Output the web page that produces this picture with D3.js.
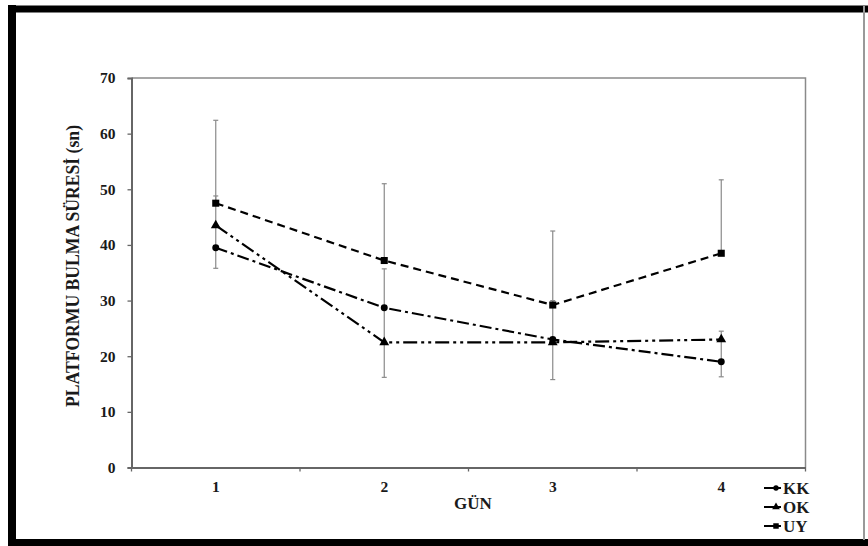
<!DOCTYPE html>
<html>
<head>
<meta charset="utf-8">
<script src="https://cdn.jsdelivr.net/npm/d3@7"></script>
<style>
html,body{margin:0;padding:0;background:#fff;}
svg{display:block;}
text{font-family:"Liberation Serif","Times New Roman",serif;font-weight:bold;fill:#1a1a1a;}
</style>
</head>
<body>
<svg id="chart" width="868" height="546"></svg>
<script>
// ---- data ----
const days = [1, 2, 3, 4];
const yTicks = [0, 10, 20, 30, 40, 50, 60, 70];
const seriesNames = ["KK", "OK", "UY"];
const KK = [39.5, 28.7, 23.0, 19.0];
const OK = [43.5, 22.5, 22.5, 23.0];
const UY = [47.5, 37.2, 29.2, 38.5];
const KK_errUp = [0, 7.0, 7.0, 0];
const KK_errDown = [3.7, 0, 7.2, 2.7];
const OK_errUp = [5.3, 6.2, 0, 1.5];
const OK_errDown = [4.0, 6.3, 0, 4.0];
const UY_errUp = [14.9, 13.8, 13.3, 13.2];
const UY_errDown = [0, 0, 0, 0];
const xTitle = "GÜN";
const yTitle = "PLATFORMU BULMA SÜRESİ (sn)";

// ---- layout ----
const svg = d3.select("#chart");
const L = 131.5, R = 805.5, T = 78, B = 467.5;
const x = d3.scaleBand().domain(days).range([L, R]);
const y = d3.scaleLinear().domain([0, 70]).range([B, T]);
const cx = d => x(d) + x.bandwidth() / 2;

// outer frame
svg.append("line").attr("x1", 12).attr("x2", 12).attr("y1", 5).attr("y2", 545)
  .attr("stroke", "#000").attr("stroke-width", 8);
svg.append("line").attr("x1", 8).attr("x2", 868).attr("y1", 9).attr("y2", 9)
  .attr("stroke", "#000").attr("stroke-width", 7);
svg.append("line").attr("x1", 8).attr("x2", 868).attr("y1", 542.5).attr("y2", 542.5)
  .attr("stroke", "#000").attr("stroke-width", 7);
svg.append("line").attr("x1", 864).attr("x2", 864).attr("y1", 6).attr("y2", 540)
  .attr("stroke", "#999").attr("stroke-width", 2);

// plot frame (top/right)
svg.append("path").attr("d", `M${L},${T}H${R}V${B}`)
  .attr("fill", "none").attr("stroke", "#8a8a8a").attr("stroke-width", 1.5);

// axes
const yAxis = d3.axisLeft(y).tickValues(yTicks).tickSize(4).tickPadding(12);
const gy = svg.append("g").attr("transform", `translate(${L},0)`).call(yAxis);
gy.select(".domain").attr("stroke", "#666").attr("stroke-width", 2);
gy.selectAll(".tick line").attr("stroke", "#666").attr("stroke-width", 1.3);
gy.selectAll(".tick text").style("font-size", "15.5px").style("font-family", "Liberation Serif, serif")
  .style("font-weight", "bold").attr("fill", "#1a1a1a");

const xAxis = d3.axisBottom(x).tickSize(0).tickPadding(13);
const gx = svg.append("g").attr("transform", `translate(0,${B})`).call(xAxis);
gx.select(".domain").attr("stroke", "#666").attr("stroke-width", 2);
gx.selectAll(".tick text").style("font-size", "15.5px").style("font-family", "Liberation Serif, serif")
  .style("font-weight", "bold").attr("fill", "#1a1a1a");
// tick marks at band boundaries
const bounds = days.map(d => x(d)).concat([x(days[days.length - 1]) + x.bandwidth()]);
svg.append("g").selectAll("line").data(bounds).join("line")
  .attr("x1", d => d).attr("x2", d => d).attr("y1", B).attr("y2", B + 4)
  .attr("stroke", "#666").attr("stroke-width", 1.3);

// titles
svg.append("text").attr("x", 473).attr("y", 509).attr("text-anchor", "middle")
  .style("font-size", "17px").text(xTitle);
svg.append("text").attr("transform", `translate(79,266) rotate(-90)`).attr("text-anchor", "middle")
  .attr("textLength", 282).attr("lengthAdjust", "spacingAndGlyphs")
  .style("font-size", "18px").text(yTitle);

// series
const series = [
  {name: "KK", values: KK, up: KK_errUp, dn: KK_errDown, dash: "12,4,3,4", sym: d3.symbolCircle, size: 38},
  {name: "OK", values: OK, up: OK_errUp, dn: OK_errDown, dash: "14,4,3,4,3,4", sym: d3.symbolTriangle, size: 42},
  {name: "UY", values: UY, up: UY_errUp, dn: UY_errDown, dash: "8,5", sym: d3.symbolSquare, size: 50}
];

// error bars
const eg = svg.append("g");
series.forEach(s => {
  days.forEach((d, i) => {
    const v = s.values[i];
    [[s.up[i], 1], [s.dn[i], -1]].forEach(([e, sg]) => {
      if (e <= 0) return;
      const ye = y(v + sg * e);
      eg.append("line").attr("x1", cx(d)).attr("x2", cx(d)).attr("y1", y(v)).attr("y2", ye)
        .attr("stroke", "#8a8a8a").attr("stroke-width", 1.2);
      eg.append("line").attr("x1", cx(d) - 2.5).attr("x2", cx(d) + 2.5).attr("y1", ye).attr("y2", ye)
        .attr("stroke", "#8a8a8a").attr("stroke-width", 1.2);
    });
  });
});

// lines
const line = d3.line().x((v, i) => cx(days[i])).y(v => y(v));
series.forEach(s => {
  svg.append("path").attr("d", line(s.values)).attr("fill", "none")
    .attr("stroke", "#000").attr("stroke-width", 2.2).attr("stroke-dasharray", s.dash);
});
// markers
series.forEach(s => {
  svg.append("g").selectAll("path").data(s.values).join("path")
    .attr("transform", (v, i) => `translate(${cx(days[i])},${y(v)})`)
    .attr("d", d3.symbol().type(s.sym).size(s.size)).attr("fill", "#000");
});

// legend
const lg = svg.append("g");
series.forEach((s, i) => {
  const ly = 488 + i * 19;
  lg.append("line").attr("x1", 764).attr("x2", 781).attr("y1", ly).attr("y2", ly)
    .attr("stroke", "#000").attr("stroke-width", 2);
  lg.append("path").attr("transform", `translate(776,${ly})`)
    .attr("d", d3.symbol().type(s.sym).size(s.size * 0.6)).attr("fill", "#000");
  lg.append("text").attr("x", 783).attr("y", ly + 5.5).style("font-size", "17px").text(s.name);
});
</script>
